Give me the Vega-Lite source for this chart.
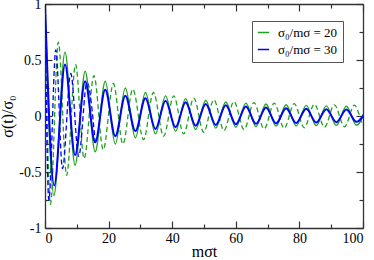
{
  "$schema": "https://vega.github.io/schema/vega-lite/v6.json",
  "width": 318,
  "height": 224,
  "autosize": {"type": "none"},
  "padding": {"left": 45, "top": 4, "right": 11, "bottom": 32},
  "background": "white",
  "datasets": {
    "curves": [
      {"t": 0, "v": 1, "s": "σ₀/mσ = 20", "d": "dashed"},
      {"t": 1.7, "v": -0.79, "s": "σ₀/mσ = 20", "d": "dashed"},
      {"t": 4.2, "v": 0.66, "s": "σ₀/mσ = 20", "d": "dashed"},
      {"t": 6.8, "v": -0.53, "s": "σ₀/mσ = 20", "d": "dashed"},
      {"t": 9.6, "v": 0.46, "s": "σ₀/mσ = 20", "d": "dashed"},
      {"t": 12.3, "v": -0.38, "s": "σ₀/mσ = 20", "d": "dashed"},
      {"t": 15.4, "v": 0.36, "s": "σ₀/mσ = 20", "d": "dashed"},
      {"t": 18.3, "v": -0.3, "s": "σ₀/mσ = 20", "d": "dashed"},
      {"t": 21.5, "v": 0.29, "s": "σ₀/mσ = 20", "d": "dashed"},
      {"t": 24.5, "v": -0.25, "s": "σ₀/mσ = 20", "d": "dashed"},
      {"t": 27.6, "v": 0.24, "s": "σ₀/mσ = 20", "d": "dashed"},
      {"t": 31.0, "v": -0.21, "s": "σ₀/mσ = 20", "d": "dashed"},
      {"t": 34.1, "v": 0.21, "s": "σ₀/mσ = 20", "d": "dashed"},
      {"t": 37.3, "v": -0.18, "s": "σ₀/mσ = 20", "d": "dashed"},
      {"t": 40.5, "v": 0.18, "s": "σ₀/mσ = 20", "d": "dashed"},
      {"t": 43.6, "v": -0.16, "s": "σ₀/mσ = 20", "d": "dashed"},
      {"t": 46.8, "v": 0.16, "s": "σ₀/mσ = 20", "d": "dashed"},
      {"t": 49.9, "v": -0.145, "s": "σ₀/mσ = 20", "d": "dashed"},
      {"t": 53.1, "v": 0.145, "s": "σ₀/mσ = 20", "d": "dashed"},
      {"t": 56.3, "v": -0.13, "s": "σ₀/mσ = 20", "d": "dashed"},
      {"t": 59.4, "v": 0.13, "s": "σ₀/mσ = 20", "d": "dashed"},
      {"t": 62.6, "v": -0.12, "s": "σ₀/mσ = 20", "d": "dashed"},
      {"t": 65.7, "v": 0.12, "s": "σ₀/mσ = 20", "d": "dashed"},
      {"t": 68.9, "v": -0.115, "s": "σ₀/mσ = 20", "d": "dashed"},
      {"t": 72.1, "v": 0.115, "s": "σ₀/mσ = 20", "d": "dashed"},
      {"t": 75.2, "v": -0.11, "s": "σ₀/mσ = 20", "d": "dashed"},
      {"t": 78.4, "v": 0.11, "s": "σ₀/mσ = 20", "d": "dashed"},
      {"t": 81.5, "v": -0.105, "s": "σ₀/mσ = 20", "d": "dashed"},
      {"t": 84.7, "v": 0.105, "s": "σ₀/mσ = 20", "d": "dashed"},
      {"t": 87.9, "v": -0.1, "s": "σ₀/mσ = 20", "d": "dashed"},
      {"t": 91.0, "v": 0.1, "s": "σ₀/mσ = 20", "d": "dashed"},
      {"t": 94.2, "v": -0.097, "s": "σ₀/mσ = 20", "d": "dashed"},
      {"t": 97.3, "v": 0.097, "s": "σ₀/mσ = 20", "d": "dashed"},
      {"t": 100.5, "v": -0.095, "s": "σ₀/mσ = 20", "d": "dashed"},
      {"t": 103.6, "v": 0.095, "s": "σ₀/mσ = 20", "d": "dashed"},

      {"t": 0, "v": 1, "s": "σ₀/mσ = 30", "d": "dashed"},
      {"t": 1.2, "v": -0.75, "s": "σ₀/mσ = 30", "d": "dashed"},
      {"t": 3.4, "v": 0.59, "s": "σ₀/mσ = 30", "d": "dashed"},
      {"t": 5.5, "v": -0.47, "s": "σ₀/mσ = 30", "d": "dashed"},
      {"t": 8.1, "v": 0.38, "s": "σ₀/mσ = 30", "d": "dashed"},
      {"t": 10.6, "v": -0.36, "s": "σ₀/mσ = 30", "d": "dashed"},
      {"t": 13.2, "v": 0.3, "s": "σ₀/mσ = 30", "d": "dashed"},
      {"t": 15.78, "v": -0.235, "s": "σ₀/mσ = 30", "d": "dashed"},

      {"t": 0, "v": 1, "s": "σ₀/mσ = 20", "d": "solid"},
      {"t": 2.8, "v": -0.71, "s": "σ₀/mσ = 20", "d": "solid"},
      {"t": 6.3, "v": 0.57, "s": "σ₀/mσ = 20", "d": "solid"},
      {"t": 9.46, "v": -0.44, "s": "σ₀/mσ = 20", "d": "solid"},
      {"t": 12.62, "v": 0.4, "s": "σ₀/mσ = 20", "d": "solid"},
      {"t": 15.78, "v": -0.32, "s": "σ₀/mσ = 20", "d": "solid"},
      {"t": 18.94, "v": 0.31, "s": "σ₀/mσ = 20", "d": "solid"},
      {"t": 22.1, "v": -0.25, "s": "σ₀/mσ = 20", "d": "solid"},
      {"t": 25.26, "v": 0.25, "s": "σ₀/mσ = 20", "d": "solid"},
      {"t": 28.42, "v": -0.195, "s": "σ₀/mσ = 20", "d": "solid"},
      {"t": 31.58, "v": 0.21, "s": "σ₀/mσ = 20", "d": "solid"},
      {"t": 34.74, "v": -0.16, "s": "σ₀/mσ = 20", "d": "solid"},
      {"t": 37.9, "v": 0.18, "s": "σ₀/mσ = 20", "d": "solid"},
      {"t": 41.06, "v": -0.135, "s": "σ₀/mσ = 20", "d": "solid"},
      {"t": 44.22, "v": 0.155, "s": "σ₀/mσ = 20", "d": "solid"},
      {"t": 47.38, "v": -0.12, "s": "σ₀/mσ = 20", "d": "solid"},
      {"t": 50.54, "v": 0.14, "s": "σ₀/mσ = 20", "d": "solid"},
      {"t": 53.7, "v": -0.108, "s": "σ₀/mσ = 20", "d": "solid"},
      {"t": 56.86, "v": 0.125, "s": "σ₀/mσ = 20", "d": "solid"},
      {"t": 60.02, "v": -0.1, "s": "σ₀/mσ = 20", "d": "solid"},
      {"t": 63.18, "v": 0.115, "s": "σ₀/mσ = 20", "d": "solid"},
      {"t": 66.34, "v": -0.095, "s": "σ₀/mσ = 20", "d": "solid"},
      {"t": 69.5, "v": 0.107, "s": "σ₀/mσ = 20", "d": "solid"},
      {"t": 72.66, "v": -0.09, "s": "σ₀/mσ = 20", "d": "solid"},
      {"t": 75.82, "v": 0.1, "s": "σ₀/mσ = 20", "d": "solid"},
      {"t": 78.98, "v": -0.088, "s": "σ₀/mσ = 20", "d": "solid"},
      {"t": 82.14, "v": 0.095, "s": "σ₀/mσ = 20", "d": "solid"},
      {"t": 85.3, "v": -0.086, "s": "σ₀/mσ = 20", "d": "solid"},
      {"t": 88.46, "v": 0.09, "s": "σ₀/mσ = 20", "d": "solid"},
      {"t": 91.62, "v": -0.084, "s": "σ₀/mσ = 20", "d": "solid"},
      {"t": 94.78, "v": 0.087, "s": "σ₀/mσ = 20", "d": "solid"},
      {"t": 97.94, "v": -0.082, "s": "σ₀/mσ = 20", "d": "solid"},
      {"t": 101.1, "v": 0.085, "s": "σ₀/mσ = 20", "d": "solid"},

      {"t": 0, "v": 1, "s": "σ₀/mσ = 30", "d": "solid"},
      {"t": 2.9, "v": -0.62, "s": "σ₀/mσ = 30", "d": "solid"},
      {"t": 6.3, "v": 0.46, "s": "σ₀/mσ = 30", "d": "solid"},
      {"t": 9.46, "v": -0.35, "s": "σ₀/mσ = 30", "d": "solid"},
      {"t": 12.62, "v": 0.31, "s": "σ₀/mσ = 30", "d": "solid"},
      {"t": 15.78, "v": -0.235, "s": "σ₀/mσ = 30", "d": "solid"},
      {"t": 18.94, "v": 0.235, "s": "σ₀/mσ = 30", "d": "solid"},
      {"t": 22.1, "v": -0.18, "s": "σ₀/mσ = 30", "d": "solid"},
      {"t": 25.26, "v": 0.18, "s": "σ₀/mσ = 30", "d": "solid"},
      {"t": 28.42, "v": -0.135, "s": "σ₀/mσ = 30", "d": "solid"},
      {"t": 31.58, "v": 0.158, "s": "σ₀/mσ = 30", "d": "solid"},
      {"t": 34.74, "v": -0.116, "s": "σ₀/mσ = 30", "d": "solid"},
      {"t": 37.9, "v": 0.137, "s": "σ₀/mσ = 30", "d": "solid"},
      {"t": 41.06, "v": -0.1, "s": "σ₀/mσ = 30", "d": "solid"},
      {"t": 44.22, "v": 0.122, "s": "σ₀/mσ = 30", "d": "solid"},
      {"t": 47.38, "v": -0.087, "s": "σ₀/mσ = 30", "d": "solid"},
      {"t": 50.54, "v": 0.107, "s": "σ₀/mσ = 30", "d": "solid"},
      {"t": 53.7, "v": -0.08, "s": "σ₀/mσ = 30", "d": "solid"},
      {"t": 56.86, "v": 0.095, "s": "σ₀/mσ = 30", "d": "solid"},
      {"t": 60.02, "v": -0.074, "s": "σ₀/mσ = 30", "d": "solid"},
      {"t": 63.18, "v": 0.085, "s": "σ₀/mσ = 30", "d": "solid"},
      {"t": 66.34, "v": -0.07, "s": "σ₀/mσ = 30", "d": "solid"},
      {"t": 69.5, "v": 0.077, "s": "σ₀/mσ = 30", "d": "solid"},
      {"t": 72.66, "v": -0.066, "s": "σ₀/mσ = 30", "d": "solid"},
      {"t": 75.82, "v": 0.07, "s": "σ₀/mσ = 30", "d": "solid"},
      {"t": 78.98, "v": -0.062, "s": "σ₀/mσ = 30", "d": "solid"},
      {"t": 82.14, "v": 0.065, "s": "σ₀/mσ = 30", "d": "solid"},
      {"t": 85.3, "v": -0.058, "s": "σ₀/mσ = 30", "d": "solid"},
      {"t": 88.46, "v": 0.061, "s": "σ₀/mσ = 30", "d": "solid"},
      {"t": 91.62, "v": -0.055, "s": "σ₀/mσ = 30", "d": "solid"},
      {"t": 94.78, "v": 0.057, "s": "σ₀/mσ = 30", "d": "solid"},
      {"t": 97.94, "v": -0.052, "s": "σ₀/mσ = 30", "d": "solid"},
      {"t": 101.1, "v": 0.054, "s": "σ₀/mσ = 30", "d": "solid"}
    ]
  },
  "data": {"name": "curves"},
  "config": {
    "view": {"stroke": null},
    "axis": {
      "domainColor": "#333333",
      "tickColor": "#333333",
      "domainWidth": 1.3,
      "tickWidth": 1.2,
      "grid": false,
      "labelFont": "Liberation Serif, Times New Roman, DejaVu Serif, serif",
      "labelFontSize": 14,
      "labelColor": "black",
      "titleFont": "Liberation Serif, Times New Roman, DejaVu Serif, serif",
      "titleFontSize": 16,
      "titleFontWeight": "normal",
      "titleColor": "black"
    }
  },
  "layer": [
    {
      "transform": [{"filter": {"and": [{"field": "s", "equal": "σ₀/mσ = 20"}, {"field": "d", "equal": "dashed"}]}}],
      "mark": {"type": "line", "interpolate": "monotone", "clip": true, "strokeDash": [5, 3], "strokeWidth": 1.3},
      "encoding": {
        "x": {"field": "t", "type": "quantitative", "scale": {"domain": [0, 100], "nice": false, "zero": false},
          "axis": {"orient": "bottom", "values": [0, 20, 40, 60, 80, 100], "tickSize": -7, "labelPadding": 10, "format": "d", "title": "mσt", "titlePadding": -2}},
        "y": {"field": "v", "type": "quantitative", "scale": {"domain": [-1, 1], "nice": false},
          "axis": {"orient": "left", "values": [-1, -0.5, 0, 0.5, 1], "tickSize": -7, "labelPadding": 11, "labelExpr": "toString(datum.value)", "title": "σ(t)/σ₀", "titlePadding": 3}},
        "color": {"field": "s", "type": "nominal", "scale": {"domain": ["σ₀/mσ = 20", "σ₀/mσ = 30"], "range": ["#22a022", "#0000ff"]},
          "legend": {"orient": "none", "legendX": 207, "legendY": 17, "title": null, "symbolType": "stroke", "symbolSize": 130, "symbolStrokeWidth": 1.5, "symbolDash": [1, 0], "labelFont": "Liberation Serif, Times New Roman, DejaVu Serif, serif", "labelFontSize": 13, "labelColor": "black", "strokeColor": "#555555", "fillColor": "white", "padding": 5, "rowPadding": 3, "labelOffset": 8}}
      }
    },
    {
      "transform": [{"filter": {"and": [{"field": "s", "equal": "σ₀/mσ = 30"}, {"field": "d", "equal": "dashed"}]}}],
      "mark": {"type": "line", "interpolate": "monotone", "clip": true, "strokeDash": [5, 3], "strokeWidth": 1.3},
      "encoding": {
        "x": {"field": "t", "type": "quantitative", "scale": {"domain": [0, 100], "nice": false, "zero": false},
          "axis": {"orient": "bottom", "values": [10, 30, 50, 70, 90], "tickSize": -4, "labels": false, "domain": false, "title": null}},
        "y": {"field": "v", "type": "quantitative", "scale": {"domain": [-1, 1], "nice": false},
          "axis": {"orient": "left", "values": [-0.75, -0.25, 0.25, 0.75], "tickSize": -4, "labels": false, "domain": false, "title": null}},
        "color": {"field": "s", "type": "nominal"}
      }
    },
    {
      "transform": [{"filter": {"and": [{"field": "s", "equal": "σ₀/mσ = 20"}, {"field": "d", "equal": "solid"}]}}],
      "mark": {"type": "line", "interpolate": "monotone", "clip": true, "strokeWidth": 1.4},
      "encoding": {
        "x": {"field": "t", "type": "quantitative", "scale": {"domain": [0, 100], "nice": false, "zero": false},
          "axis": {"orient": "top", "values": [0, 20, 40, 60, 80, 100], "tickSize": -7, "labels": false, "title": null}},
        "y": {"field": "v", "type": "quantitative", "scale": {"domain": [-1, 1], "nice": false},
          "axis": {"orient": "right", "values": [-1, -0.5, 0, 0.5, 1], "tickSize": -7, "labels": false, "title": null}},
        "color": {"field": "s", "type": "nominal"}
      }
    },
    {
      "transform": [{"filter": {"and": [{"field": "s", "equal": "σ₀/mσ = 30"}, {"field": "d", "equal": "solid"}]}}],
      "mark": {"type": "line", "interpolate": "monotone", "clip": true, "strokeWidth": 2},
      "encoding": {
        "x": {"field": "t", "type": "quantitative", "scale": {"domain": [0, 100], "nice": false, "zero": false},
          "axis": {"orient": "top", "values": [10, 30, 50, 70, 90], "tickSize": -4, "labels": false, "domain": false, "title": null}},
        "y": {"field": "v", "type": "quantitative", "scale": {"domain": [-1, 1], "nice": false},
          "axis": {"orient": "right", "values": [-0.75, -0.25, 0.25, 0.75], "tickSize": -4, "labels": false, "domain": false, "title": null}},
        "color": {"field": "s", "type": "nominal"}
      }
    }
  ],
  "resolve": {"axis": {"x": "independent", "y": "independent"}}
}
